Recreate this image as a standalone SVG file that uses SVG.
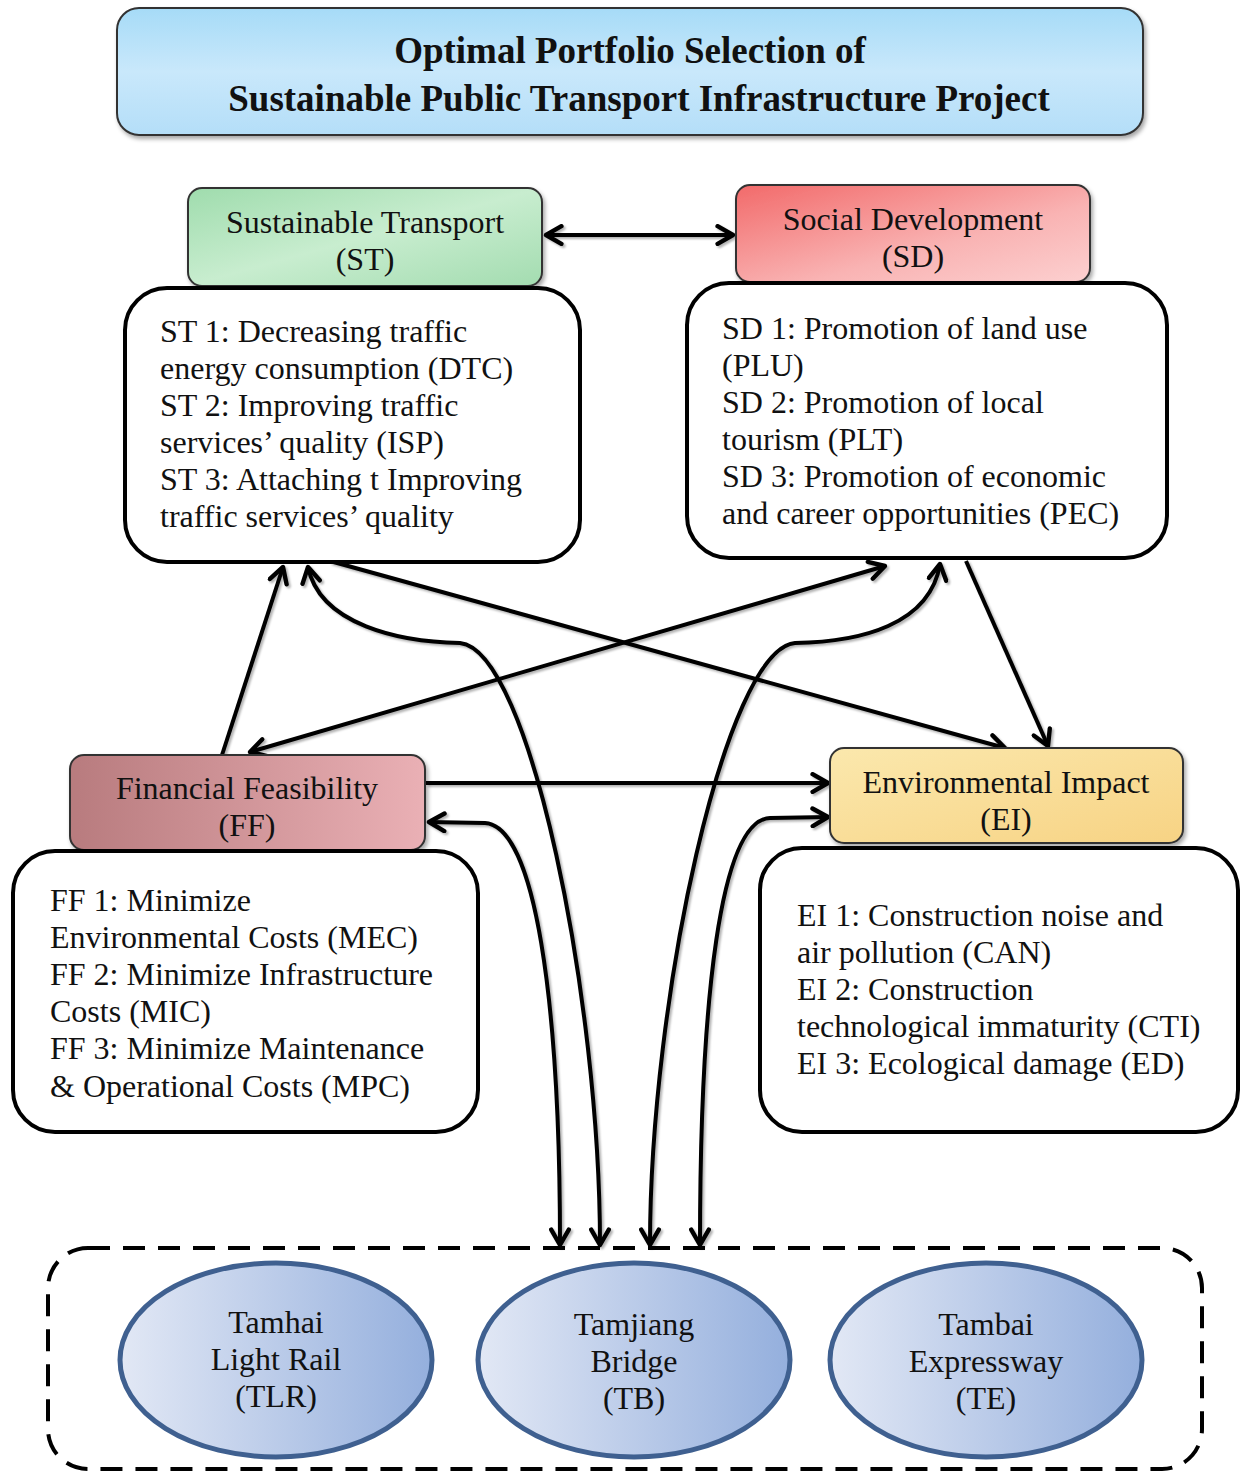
<svg xmlns="http://www.w3.org/2000/svg" width="1248" height="1472" viewBox="0 0 1248 1472">
<style>
  text { font-family: "Liberation Serif", "Times New Roman", serif; fill: #111; }
  .title { font-size: 37px; font-weight: bold; text-anchor: middle; }
  .hdr { font-size: 32px; text-anchor: middle; }
  .body { font-size: 32px; }
  .ell { font-size: 32px; text-anchor: middle; }
  .hbox { stroke: #333; stroke-width: 2; }
  .dbox { fill: #fff; stroke: #000; stroke-width: 4; }
  .conn { fill: none; stroke: #000; stroke-width: 4; }
  .ellipse { stroke: #3f6090; stroke-width: 5; fill: url(#gEll); }
</style>
<defs>
  <linearGradient id="gTitle" x1="0" y1="0" x2="0" y2="1">
    <stop offset="0" stop-color="#a6dbf7"/>
    <stop offset="0.5" stop-color="#c9e8fb"/>
    <stop offset="1" stop-color="#b4def8"/>
  </linearGradient>
  <linearGradient id="gST" x1="0" y1="0" x2="1" y2="1">
    <stop offset="0" stop-color="#9fdcad"/>
    <stop offset="0.5" stop-color="#c8edcf"/>
    <stop offset="1" stop-color="#a3dcb0"/>
  </linearGradient>
  <linearGradient id="gSD" x1="0" y1="0" x2="1" y2="1">
    <stop offset="0" stop-color="#f26a6a"/>
    <stop offset="0.6" stop-color="#f9b3b3"/>
    <stop offset="1" stop-color="#fcd0d0"/>
  </linearGradient>
  <linearGradient id="gFF" x1="0" y1="0" x2="1" y2="0">
    <stop offset="0" stop-color="#b87b7e"/>
    <stop offset="1" stop-color="#eab0b5"/>
  </linearGradient>
  <linearGradient id="gEI" x1="0" y1="0" x2="1" y2="1">
    <stop offset="0" stop-color="#fbe8ad"/>
    <stop offset="1" stop-color="#f7d384"/>
  </linearGradient>
  <linearGradient id="gEll" x1="0" y1="0" x2="1" y2="0">
    <stop offset="0" stop-color="#e2e8f5"/>
    <stop offset="1" stop-color="#94afdd"/>
  </linearGradient>
  <filter id="shadow" x="-10%" y="-10%" width="120%" height="130%">
    <feDropShadow dx="2" dy="3" stdDeviation="2" flood-color="#000" flood-opacity="0.35"/>
  </filter>
  <filter id="lshadow" x="-10%" y="-10%" width="120%" height="120%">
    <feDropShadow dx="2" dy="2" stdDeviation="1.2" flood-color="#000" flood-opacity="0.3"/>
  </filter>
  <marker id="arr" viewBox="0 0 20 20" markerUnits="userSpaceOnUse" markerWidth="22" markerHeight="22" refX="17" refY="10" orient="auto-start-reverse">
    <path d="M3,2 L17,10 L3,18" fill="none" stroke="#000" stroke-width="4" stroke-linecap="round" stroke-linejoin="round"/>
  </marker>
</defs>

<rect width="1248" height="1472" fill="#fff"/>

<g id="title">
  <rect x="117" y="8" width="1026" height="127" rx="22" fill="url(#gTitle)" stroke="#333" stroke-width="2" filter="url(#shadow)"/>
  <text class="title" x="630" y="63">Optimal Portfolio Selection of</text>
  <text class="title" x="639" y="111">Sustainable Public Transport Infrastructure Project</text>
</g>

<g id="connectors" filter="url(#lshadow)">
  <path class="conn" d="M546,235 L733,235" marker-start="url(#arr)" marker-end="url(#arr)"/>
  <path class="conn" d="M222,755 L283,567" marker-end="url(#arr)"/>
  <path class="conn" d="M600,1245 C600,1000 530,650 460,643 C400,642 320,625 308,567" marker-start="url(#arr)" marker-end="url(#arr)"/>
  <path class="conn" d="M330,561 L1005,748" marker-end="url(#arr)"/>
  <path class="conn" d="M885,566 L250,752" marker-start="url(#arr)" marker-end="url(#arr)"/>
  <path class="conn" d="M650,1245 C650,1000 725,650 795,643 C860,642 930,625 940,564" marker-start="url(#arr)" marker-end="url(#arr)"/>
  <path class="conn" d="M966,561 L1048,746" marker-end="url(#arr)"/>
  <path class="conn" d="M426,783 L828,783" marker-end="url(#arr)"/>
  <path class="conn" d="M560,1245 C560,1000 535,826 485,823 L429,822" marker-start="url(#arr)" marker-end="url(#arr)"/>
  <path class="conn" d="M700,1245 C700,1000 720,820 770,818 L828,817" marker-start="url(#arr)" marker-end="url(#arr)"/>
</g>

<g id="ST">
  <rect class="hbox" x="188" y="188" width="354" height="98" rx="14" fill="url(#gST)" filter="url(#shadow)"/>
  <text class="hdr" x="365" y="233">Sustainable Transport</text>
  <text class="hdr" x="365" y="270">(ST)</text>
</g>
<g id="ST-detail">
  <rect class="dbox" x="125" y="288" width="455" height="274" rx="42"/>
  <text class="body" x="160" y="342">ST 1: Decreasing traffic</text>
  <text class="body" x="160" y="379">energy consumption (DTC)</text>
  <text class="body" x="160" y="416">ST 2: Improving traffic</text>
  <text class="body" x="160" y="453">services’ quality (ISP)</text>
  <text class="body" x="160" y="490">ST 3: Attaching t Improving</text>
  <text class="body" x="160" y="527">traffic services’ quality</text>
</g>

<g id="SD">
  <rect class="hbox" x="736" y="185" width="354" height="97" rx="14" fill="url(#gSD)" filter="url(#shadow)"/>
  <text class="hdr" x="913" y="230">Social Development</text>
  <text class="hdr" x="913" y="267">(SD)</text>
</g>
<g id="SD-detail">
  <rect class="dbox" x="687" y="283" width="480" height="275" rx="42"/>
  <text class="body" x="722" y="339">SD 1: Promotion of land use</text>
  <text class="body" x="722" y="376">(PLU)</text>
  <text class="body" x="722" y="413">SD 2: Promotion of local</text>
  <text class="body" x="722" y="450">tourism (PLT)</text>
  <text class="body" x="722" y="487">SD 3: Promotion of economic</text>
  <text class="body" x="722" y="524">and career opportunities (PEC)</text>
</g>

<g id="FF">
  <rect class="hbox" x="70" y="755" width="355" height="95" rx="14" fill="url(#gFF)" filter="url(#shadow)"/>
  <text class="hdr" x="247" y="799">Financial Feasibility</text>
  <text class="hdr" x="247" y="836">(FF)</text>
</g>
<g id="FF-detail">
  <rect class="dbox" x="13" y="851" width="465" height="281" rx="42"/>
  <text class="body" x="50" y="911">FF 1: Minimize</text>
  <text class="body" x="50" y="948">Environmental Costs (MEC)</text>
  <text class="body" x="50" y="985">FF 2: Minimize Infrastructure</text>
  <text class="body" x="50" y="1022">Costs (MIC)</text>
  <text class="body" x="50" y="1059">FF 3: Minimize Maintenance</text>
  <text class="body" x="50" y="1097">&amp; Operational Costs (MPC)</text>
</g>

<g id="EI">
  <rect class="hbox" x="830" y="748" width="353" height="95" rx="14" fill="url(#gEI)" filter="url(#shadow)"/>
  <text class="hdr" x="1006" y="793">Environmental Impact</text>
  <text class="hdr" x="1006" y="830">(EI)</text>
</g>
<g id="EI-detail">
  <rect class="dbox" x="760" y="848" width="478" height="284" rx="42"/>
  <text class="body" x="797" y="926">EI 1: Construction noise and</text>
  <text class="body" x="797" y="963">air pollution (CAN)</text>
  <text class="body" x="797" y="1000">EI 2: Construction</text>
  <text class="body" x="797" y="1037">technological immaturity (CTI)</text>
  <text class="body" x="797" y="1074">EI 3: Ecological damage (ED)</text>
</g>

<g id="alternatives">
  <rect x="48" y="1248" width="1154" height="221" rx="40" fill="none" stroke="#000" stroke-width="4" stroke-dasharray="22 13"/>
</g>
<g id="TLR">
  <ellipse class="ellipse" cx="276" cy="1360" rx="156" ry="97"/>
  <text class="ell" x="276" y="1333">Tamhai</text>
  <text class="ell" x="276" y="1370">Light Rail</text>
  <text class="ell" x="276" y="1407">(TLR)</text>
</g>
<g id="TB">
  <ellipse class="ellipse" cx="634" cy="1360" rx="156" ry="97"/>
  <text class="ell" x="634" y="1335">Tamjiang</text>
  <text class="ell" x="634" y="1372">Bridge</text>
  <text class="ell" x="634" y="1409">(TB)</text>
</g>
<g id="TE">
  <ellipse class="ellipse" cx="986" cy="1360" rx="156" ry="97"/>
  <text class="ell" x="986" y="1335">Tambai</text>
  <text class="ell" x="986" y="1372">Expressway</text>
  <text class="ell" x="986" y="1409">(TE)</text>
</g>
</svg>
